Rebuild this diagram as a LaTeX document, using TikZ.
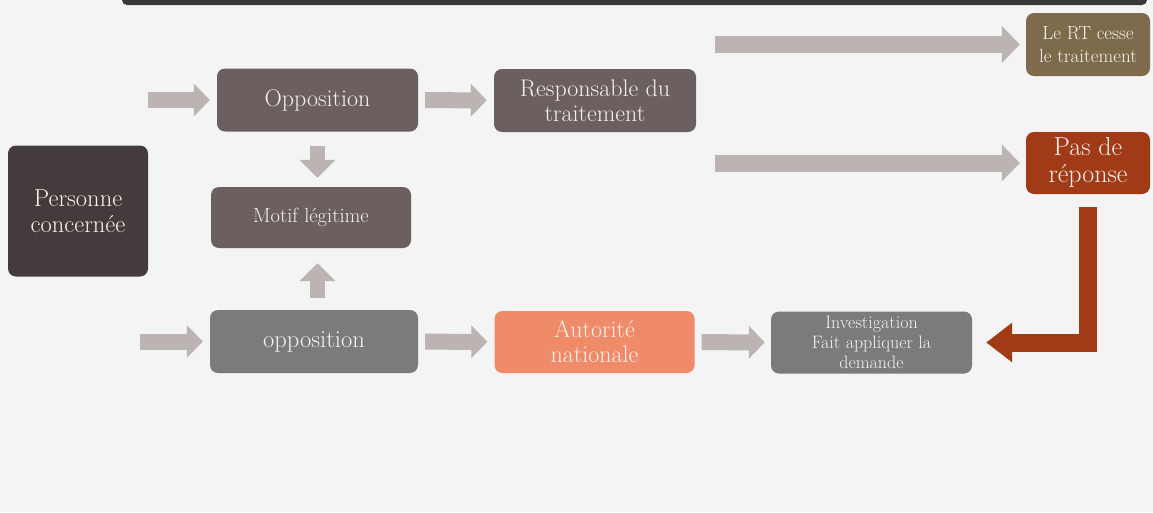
\documentclass[tikz,border=0pt]{standalone}
\usepackage{fontspec}
\usetikzlibrary{arrows.meta}

\definecolor{fond}{HTML}{F4F4F4}
\definecolor{barre}{HTML}{3A3838}
\definecolor{sombre}{HTML}{443C3C}
\definecolor{taupe}{HTML}{6B5F5F}
\definecolor{gris}{HTML}{7B7B7B}
\definecolor{saumon}{HTML}{EF8B69}
\definecolor{olive}{HTML}{7D6B4B}
\definecolor{rouille}{HTML}{A13A17}
\definecolor{fleche}{HTML}{BCB3B3}
\definecolor{texte}{HTML}{F6F2EE}

\begin{document}
\begin{tikzpicture}[x=1pt, y=-1pt,
  boite/.style={rounded corners=8pt, text=texte, align=center, inner sep=0pt},
  grosse/.style={line width=16pt, fleche, -{Triangle[length=16pt, width=32pt]}},
  longue/.style={line width=17pt, fleche, -{Triangle[length=18pt, width=36pt]}},
  montee/.style={line width=15pt, fleche, -{Triangle[length=18pt, width=35pt]}}]

\useasboundingbox (0,0) rectangle (1153,512);
\fill[fond] (0,0) rectangle (1153,512);
\fill[barre, rounded corners=5pt] (122,-15) rectangle (1147,5);

% les boites
\node[boite, fill=sombre, minimum width=140pt, minimum height=131pt,
  font=\fontsize{24.5}{26}\selectfont] (pers) at (78,211) {Personne\\concernée};
\node[boite, fill=taupe, minimum width=201pt, minimum height=63pt,
  font=\fontsize{24}{26}\selectfont] (oppA) at (317.5,100) {Opposition};
\node[boite, fill=taupe, minimum width=202pt, minimum height=63pt,
  font=\fontsize{24}{25}\selectfont] (resp) at (595,100.5) {Responsable du\\traitement};
\node[boite, fill=taupe, minimum width=200pt, minimum height=61pt,
  font=\fontsize{20.5}{22}\selectfont] (motif) at (311,217.5) {Motif légitime};
\node[boite, fill=gris, minimum width=208pt, minimum height=63pt,
  font=\fontsize{24.5}{26}\selectfont] (oppB) at (314,341.5) {opposition};
\node[boite, fill=saumon, minimum width=200pt, minimum height=62pt,
  font=\fontsize{24}{25}\selectfont] (auto) at (594.5,342) {Autorité\\nationale};
\node[boite, fill=gris, minimum width=201pt, minimum height=62pt,
  font=\fontsize{18}{20}\selectfont] (inv) at (871.5,342.5) {Investigation\\Fait appliquer la\\demande};
\node[boite, fill=olive, minimum width=124pt, minimum height=63pt,
  font=\fontsize{19}{23}\selectfont] (rt) at (1088,44.5) {Le RT cesse\\le traitement};
\node[boite, fill=rouille, minimum width=124pt, minimum height=62pt,
  font=\fontsize{26}{27}\selectfont] (pas) at (1088,163) {Pas de\\réponse};

\coordinate (in1) at (148,100);
\coordinate (in2) at (140,341.5);
\coordinate (vers1) at (715,44.5);
\coordinate (vers2) at (715,163);

% les fleches
\draw[grosse, shorten >=7pt] (in1) -- (oppA.west);
\draw[grosse, shorten <=7pt, shorten >=7pt] (oppA) -- (resp);
\draw[grosse, shorten >=7pt] (in2) -- (oppB.west);
\draw[grosse, shorten <=7pt, shorten >=7pt] (oppB) -- (auto);
\draw[grosse, shorten <=7pt, shorten >=6pt] (auto) -- (inv);

\draw[montee, shorten <=14pt, shorten >=9pt] (oppA.south) -- (oppA.south |- motif.north);
\draw[montee, shorten <=12pt, shorten >=15pt] (oppA.center |- oppB.north) -- (oppA.center |- motif.south);

\draw[longue, shorten >=6pt] (vers1) -- (rt.west);
\draw[longue, shorten >=6pt] (vers2) -- (pas.west);

\draw[rouille, line width=18pt, -{Triangle[length=26pt, width=38pt]},
  shorten <=13pt, shorten >=14pt] (pas.south) |- (inv.east);

\end{tikzpicture}
\end{document}
